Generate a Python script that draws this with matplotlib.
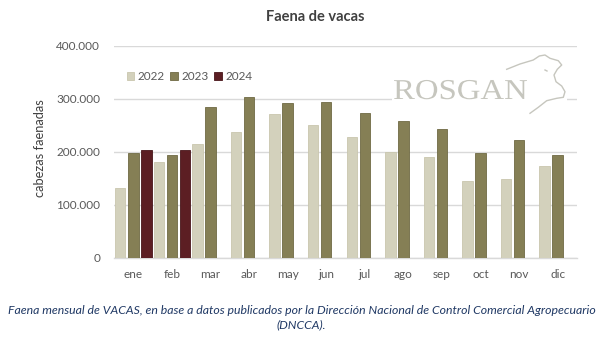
import matplotlib
matplotlib.use("Agg")
import matplotlib.pyplot as plt
import numpy as np
from matplotlib.ticker import FuncFormatter
from matplotlib.textpath import TextPath
from matplotlib.font_manager import FontProperties
from matplotlib.patches import PathPatch, Rectangle
from matplotlib.transforms import Affine2D

months = ["ene", "feb", "mar", "abr", "may", "jun", "jul", "ago", "sep", "oct", "nov", "dic"]
v2022 = [133000, 181000, 214500, 237000, 271000, 251000, 228000, 200500, 191000, 145000, 150000, 174000]
v2023 = [197500, 194500, 284000, 303000, 293000, 295000, 273000, 258500, 243000, 197500, 222000, 194000]
v2024 = [204000, 204000]
series_labels = ["2022", "2023", "2024"]
yticks = [0, 100000, 200000, 300000, 400000]

c2022 = "#D3D1BC"
c2023 = "#857F55"
c2024 = "#5C1E23"
e2022 = "#C9C6AE"
e2023 = "#6F6A44"
e2024 = "#48161A"
grid_c = "#D9D9D9"
txt_c = "#595959"

plt.rcParams['font.family'] = ['Lato', 'DejaVu Sans']

W, H = 603, 343
fig = plt.figure(figsize=(W / 100, H / 100), dpi=100)
ax = fig.add_axes([114 / W, 1 - 258 / H, 463 / W, 212 / H])

x = np.arange(len(months))
off = 0.337
w = 0.27
ax.bar(x - off, v2022, w, color=c2022, edgecolor=e2022, linewidth=0.6, label=series_labels[0], zorder=3)
ax.bar(x, v2023, w, color=c2023, edgecolor=e2023, linewidth=0.6, label=series_labels[1], zorder=3)
ax.bar(x[:len(v2024)] + off, v2024, w, color=c2024, edgecolor=e2024, linewidth=0.6, label=series_labels[2], zorder=3)

ax.set_xlim(-0.5, 11.5)
ax.set_ylim(0, 400000)
ax.set_yticks(yticks)
ax.yaxis.set_major_formatter(FuncFormatter(lambda v, p: "0" if v == 0 else f"{int(v):,}".replace(",", ".")))
ax.set_xticks(x)
ax.set_xticklabels(months)
ax.tick_params(axis='both', length=0, labelsize=8.5, colors=txt_c)
ax.tick_params(axis='x', pad=8)
ax.tick_params(axis='y', pad=10)
ax.grid(axis='y', color=grid_c, linewidth=1, zorder=0)
for s in ["top", "right", "left"]:
    ax.spines[s].set_visible(False)
ax.spines["bottom"].set_color(grid_c)
ax.spines["bottom"].set_linewidth(1)
ax.spines["bottom"].set_zorder(1)

fig.text(40 / W, 1 - 148 / H, "cabezas faenadas", rotation=90, ha="center", va="center",
         fontsize=9.3, color="#404040")

ax.legend(loc="center left", bbox_to_anchor=((122 - 114) / 463, (258 - 77) / 212), ncol=3, frameon=False,
          fontsize=8.5, handlelength=0.65, handleheight=0.65, handletextpad=0.3,
          columnspacing=0.45, labelcolor=txt_c, borderaxespad=0)

fig.text(315 / W, 1 - 17 / H, "Faena de vacas", ha="center", va="center", fontsize=10.5,
         fontweight="bold", color="#404040")

# logo watermark (decoration)
logo_c = "#C6C6BE"
fig.add_artist(Rectangle((392 / W, 1 - 118 / H), (567 - 392) / W, (118 - 52) / H,
                         transform=fig.transFigure, facecolor="white", edgecolor="none", zorder=4))
tp = TextPath((0, 0), "ROSGAN", size=24, prop=FontProperties(family="Liberation Serif"))
bb = tp.get_extents()
sx = (527 - 394) / bb.width
sy = 1.2
tr = Affine2D().translate(-bb.x0, 0).scale(sx, sy).translate(394, H - 99)
fig.add_artist(PathPatch(tr.transform_path(tp), facecolor=logo_c, edgecolor="none",
                         transform=None, zorder=5))
hx = [506.7, 520, 533.3, 539.3, 545, 550, 558.3, 561.7, 557.3, 554, 556, 561.7, 565, 563.3, 556.7, 546.7, 538.3, 530]
hy = [69.3, 64, 60, 56, 55, 58.3, 60.7, 65, 69.3, 75, 81.7, 86, 91.7, 97.3, 98.3, 100.7, 107.3, 113.3]
fig.add_artist(plt.Line2D([v / W for v in hx], [1 - v / H for v in hy], color=logo_c, lw=1,
                          transform=fig.transFigure, zorder=5))
fig.add_artist(plt.Line2D([545 / W, 547 / W], [1 - 70 / H, 1 - 71 / H], color=logo_c, lw=1,
                          transform=fig.transFigure, zorder=5))

cap_c = "#1F3864"
fig.text(0.5, 1 - 310 / H, "Faena mensual de VACAS, en base a datos publicados por la Dirección Nacional de Control Comercial Agropecuario",
         ha="center", va="center", fontsize=8.8, style="italic", color=cap_c)
fig.text(0.5, 1 - 325 / H, "(DNCCA).", ha="center", va="center", fontsize=8.8, style="italic", color=cap_c)

fig.savefig("out.png", dpi=100, facecolor="white")
